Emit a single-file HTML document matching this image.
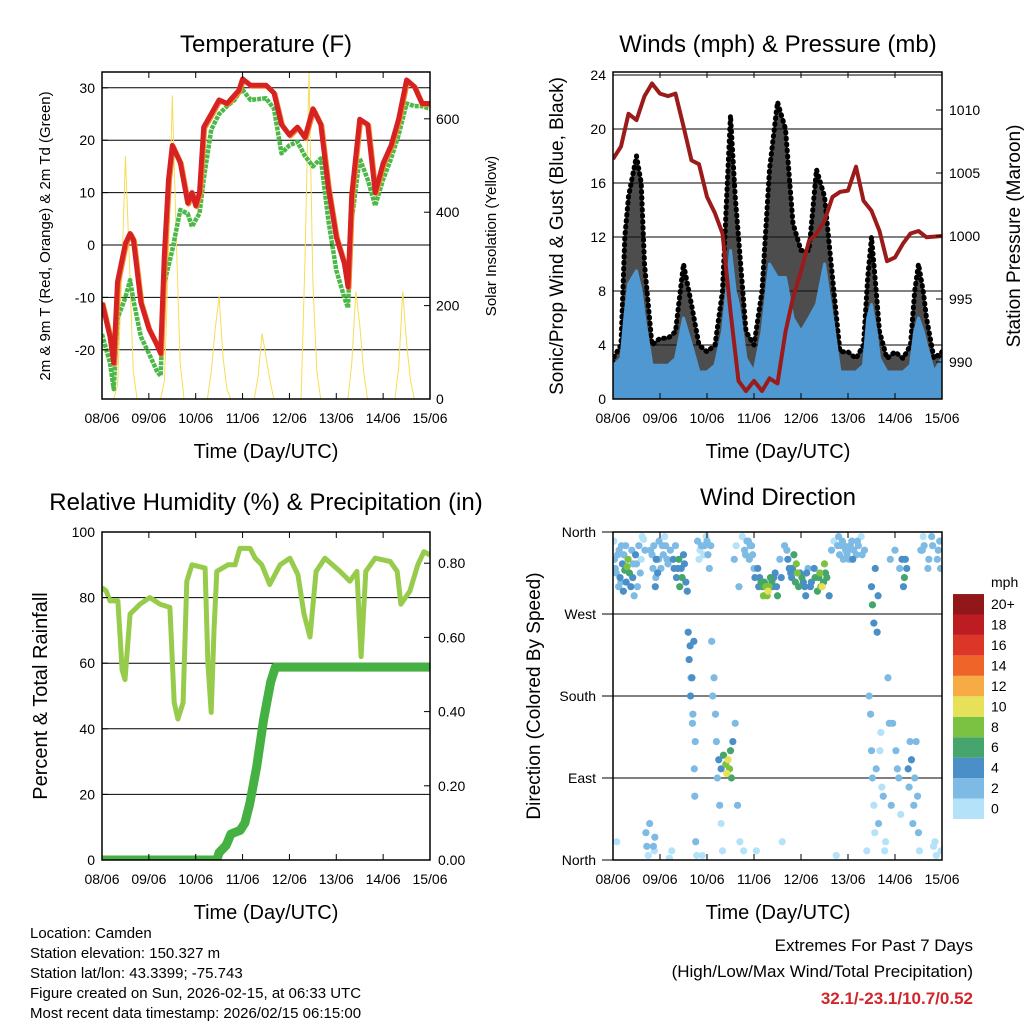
<!DOCTYPE html>
<html><head><meta charset="utf-8"><style>
html,body{margin:0;padding:0;background:#fff}
svg text{font-family:"Liberation Sans",sans-serif;fill:#000}
</style></head><body>
<svg id="s" width="1024" height="1024" viewBox="0 0 1024 1024" xmlns="http://www.w3.org/2000/svg">
<defs>
<clipPath id="c1"><rect x="102" y="72" width="328" height="327"/></clipPath>
<clipPath id="c2"><rect x="613" y="72" width="329" height="327"/></clipPath>
<clipPath id="c3"><rect x="102" y="532" width="328" height="328"/></clipPath>
<clipPath id="c4"><rect x="613" y="532" width="329" height="328"/></clipPath>
</defs>
<text x="266" y="52" font-size="24" text-anchor="middle">Temperature (F)</text>
<text x="778" y="52" font-size="24" text-anchor="middle">Winds (mph) &amp; Pressure (mb)</text>
<text x="266" y="510" font-size="24" text-anchor="middle">Relative Humidity (%) &amp; Precipitation (in)</text>
<text x="778" y="505" font-size="24" text-anchor="middle">Wind Direction</text>
<text x="266" y="458" font-size="20" text-anchor="middle">Time (Day/UTC)</text>
<text x="778" y="458" font-size="20" text-anchor="middle">Time (Day/UTC)</text>
<text x="266" y="919" font-size="20" text-anchor="middle">Time (Day/UTC)</text>
<text x="778" y="919" font-size="20" text-anchor="middle">Time (Day/UTC)</text>
<text transform="translate(50,236) rotate(-90)" font-size="15" text-anchor="middle">2m &amp; 9m T (Red, Orange) &amp; 2m Td (Green)</text>
<text transform="translate(496,236) rotate(-90)" font-size="15" text-anchor="middle">Solar Insolation (Yellow)</text>
<text transform="translate(563,236) rotate(-90)" font-size="19" text-anchor="middle">Sonic/Prop Wind &amp; Gust (Blue, Black)</text>
<text transform="translate(1020,236) rotate(-90)" font-size="19" text-anchor="middle">Station Pressure (Maroon)</text>
<text transform="translate(47,696) rotate(-90)" font-size="20" text-anchor="middle">Percent &amp; Total Rainfall</text>
<text transform="translate(540,696) rotate(-90)" font-size="19" text-anchor="middle">Direction (Colored By Speed)</text>
<g font-size="15">
<text x="30" y="938">Location: Camden</text>
<text x="30" y="958">Station elevation: 150.327 m</text>
<text x="30" y="978">Station lat/lon: 43.3399; -75.743</text>
<text x="30" y="998">Figure created on Sun, 2026-02-15, at 06:33 UTC</text>
<text x="30" y="1018">Most recent data timestamp: 2026/02/15 06:15:00</text>
</g>
<g text-anchor="end">
<text x="973" y="951" font-size="17">Extremes For Past 7 Days</text>
<text x="973" y="977" font-size="17">(High/Low/Max Wind/Total Precipitation)</text>
<text x="973" y="1004" font-size="17" font-weight="bold" style="fill:#d0262b">32.1/-23.1/10.7/0.52</text>
</g>
</svg>
<script>
const dayLabels=['08/06','09/06','10/06','11/06','12/06','13/06','14/06','15/06'];
const tempTicks=[-20,-10,0,10,20,30];
const solarTicks=[0,200,400,600];
const windTicks=[0,4,8,12,16,20,24];
const presTicks=[990,995,1000,1005,1010];
const rhTicks=[0,20,40,60,80,100];
const rainTicks=[0,0.2,0.4,0.6,0.8];
const dirLabels=['North','East','South','West','North'];
const spdLabels=['0','2','4','6','8','10','12','14','16','18','20+'];
const spdColors=['#b4e2f8','#7dbae4','#4a8fc8','#46a56c','#7cc242','#e6e158','#f6ab45','#ef6429','#dc3628','#bd1c23','#921719'];

const tTime=[0,0.17,0.25,0.33,0.5,0.6,0.67,0.83,1.0,1.17,1.25,1.33,1.42,1.5,1.67,1.83,1.92,2.0,2.08,2.17,2.33,2.5,2.67,2.83,2.92,3.0,3.17,3.5,3.67,3.83,4.0,4.17,4.33,4.5,4.67,4.83,5.0,5.17,5.25,5.33,5.5,5.67,5.83,6.0,6.17,6.33,6.5,6.67,6.83,7.0];
const temp2m=[-11,-17.5,-22.5,-7,0.3,2.2,1,-11,-16,-19,-20.7,-2,12.5,19,15.7,8,10,7.5,10,22.5,25,27.7,27,28.6,29.5,31.7,30.5,30.5,29,23,21,22.5,20.5,26,23,11,1.5,-3.5,-8,9.5,24,23,10,15.6,19,24,31.5,30.2,27,27];
const dewTime=[0,0.17,0.25,0.33,0.5,0.6,0.67,0.83,1.0,1.17,1.25,1.33,1.5,1.67,1.83,1.92,2.0,2.08,2.17,2.33,2.5,2.67,2.83,2.92,3.0,3.17,3.5,3.67,3.83,4.0,4.17,4.33,4.5,4.67,4.83,5.0,5.17,5.25,5.33,5.5,5.67,5.83,6.0,6.17,6.33,6.5,6.67,6.83,7.0];
const dew2m=[-17,-22.5,-27.5,-14,-10,-6.7,-10.5,-17.5,-20.7,-24,-25,-7.3,-1,6.7,6,3.5,4.8,6,12.5,22,25,26.5,27.7,29,29.6,27.7,28,26,17.5,19,19.7,17,15,16.5,4.8,-4.8,-10,-12,4.8,16.5,12.5,7.5,12.5,16.5,21,27,26.5,26.5,26];
const solar=[0,0,0,0,30,250,520,300,60,0,0,0,
0,0,0,0,40,300,650,350,80,0,0,0,
0,0,0,0,60,150,220,90,20,0,0,0,
0,0,0,0,50,140,90,40,0,0,0,0,
0,0,0,0,300,700,250,60,0,0,0,0,
0,0,0,0,80,230,160,60,0,0,0,0,
0,0,0,0,70,230,120,40,0,0,0,0,0];

const pTime=[0,0.17,0.33,0.5,0.67,0.83,1.0,1.17,1.33,1.5,1.67,1.83,2.0,2.17,2.33,2.5,2.67,2.83,3.0,3.17,3.33,3.5,3.67,3.83,4.0,4.17,4.33,4.5,4.67,4.83,5.0,5.17,5.33,5.5,5.67,5.83,6.0,6.17,6.33,6.5,6.67,7.0];
const pressure=[1006.1,1007.1,1009.7,1009.2,1011.1,1012.1,1011.3,1011.1,1011.3,1008.7,1006,1005.7,1003.1,1001.8,1000.2,994,988.5,987.7,988.5,987.7,988.7,988.3,992.4,995.1,997.2,999.6,1000.2,1001.2,1003.1,1003.5,1003.6,1005.5,1002.8,1002,1000.4,998,998.3,999.4,1000.2,1000.4,999.9,1000];
const wTime=[0,0.17,0.25,0.33,0.5,0.6,0.67,0.83,1.0,1.17,1.33,1.5,1.67,1.83,2.0,2.17,2.33,2.42,2.5,2.6,2.67,2.83,3.0,3.17,3.33,3.5,3.67,3.83,4.0,4.17,4.33,4.5,4.67,4.83,5.0,5.17,5.33,5.42,5.5,5.6,5.67,5.83,6.0,6.17,6.33,6.42,6.5,6.6,6.67,6.83,7.0];
const windSpd=[2.5,3,6,8.5,9.5,8,6,2.5,2.5,2.5,3,6,4,2,2,2.5,5,8,11,8,7,3,2,5,10,9,9,6,5,6,7,10,6,2,2,2,2.5,6,7,5,3,2,2,2,2.5,5,6,5,4,2,3];
const windGust=[3,4,12,15,18,16,10,4,4.5,4.5,5,10,7,4,3.5,4,8,15,21,15,12,5,4,8,17,22,20,13,11,11,17,15,9,3.5,3.5,3,4,9,12,8,5,3,3.5,3,4,8,10,8,6,3,3.5];

const rhTime=[0,.09,.17,.34,.43,.49,.6,.81,1.02,1.24,1.45,1.54,1.62,1.73,1.81,1.92,2.2,2.26,2.33,2.39,2.45,2.69,2.84,2.94,3.16,3.27,3.41,3.58,3.8,4.01,4.18,4.31,4.44,4.57,4.76,5.08,5.29,5.44,5.53,5.63,5.83,6.15,6.3,6.38,6.57,6.74,6.87,7.0];
const rh=[83,82,79,79,58,55,75,78,80,78,77,48,43,48,85,90,89,60,45,70,88,90,90,95,95,92,90,84,90,92,87,75,68,88,92,88,85,88,62,88,92,91,88,78,82,90,94,93];
const rainTime=[0,2.45,2.5,2.65,2.75,2.95,3.05,3.15,3.3,3.45,3.6,3.7,7];
const rain=[0,0,0.02,0.04,0.07,0.08,0.10,0.15,0.25,0.38,0.48,0.52,0.52];

const dirObs=[[0.05,320,2],[0.1,335,1],[0.15,310,3],[0.2,325,4],[0.25,318,6],[0.28,305,4],[0.3,322,8],[0.32,330,7],[0.35,315,5],[0.38,300,3],[0.4,340,2],[0.42,310,4],[0.45,290,2],[0.5,325,1],[0.12,300,1],[0.18,345,1],[0.22,295,3],[0.48,335,3],
[0.02,350,0],[0.08,20,0],[0.55,345,1],[0.6,330,0],[0.65,352,0],[0.7,30,1],[0.72,15,1],[0.75,5,0],[0.78,40,2],[0.8,340,1],[0.85,320,2],[0.9,300,3],[0.92,330,4],[0.95,315,3],[0.98,350,1],
[1.05,345,1],[1.1,355,0],[1.15,330,1],[1.2,2,0],[1.25,10,0],[1.3,320,3],[1.35,310,4],[1.4,330,5],[1.42,300,6],[1.45,320,4],[1.5,335,3],[1.55,305,4],[1.6,250,3],[1.62,220,4],[1.65,180,3],[1.68,200,4],[1.7,160,2],[1.72,240,3],[1.75,130,2],[1.8,350,1],[1.85,340,0],[1.9,5,0],[1.95,345,1],
[2.0,350,1],[2.05,320,1],[2.1,240,1],[2.15,200,2],[2.2,130,1],[2.25,110,3],[2.3,100,4],[2.35,115,6],[2.4,105,8],[2.42,95,9],[2.45,110,10],[2.48,100,7],[2.5,120,6],[2.52,90,5],[2.55,130,3],[2.6,150,1],[2.65,60,1],[2.7,20,0],[2.75,355,0],[2.8,340,1],[2.85,350,1],[2.9,330,2],[2.95,345,1],
[3.0,320,2],[3.05,10,0],[3.1,300,3],[3.15,305,6],[3.2,290,8],[3.25,300,7],[3.3,295,9],[3.35,310,6],[3.4,300,4],[3.45,315,3],[3.5,290,5],[3.55,330,1],[3.6,20,0],[3.65,345,1],[3.7,340,2],[3.75,320,3],[3.8,310,4],[3.85,335,5],[3.9,325,8],[3.95,300,6],[3.98,315,4],
[4.05,305,4],[4.1,290,3],[4.15,320,2],[4.2,300,4],[4.3,310,5],[4.35,295,6],[4.4,315,8],[4.45,300,9],[4.5,325,7],[4.55,310,5],[4.6,290,3],[4.65,340,1],[4.7,350,0],[4.75,5,0],[4.8,355,1],[4.85,345,1],[4.9,330,2],[4.95,340,1],
[5.0,340,2],[5.05,345,1],[5.1,330,3],[5.2,350,1],[5.3,335,2],[5.4,10,0],[5.45,180,1],[5.5,300,4],[5.52,280,5],[5.55,260,4],[5.58,320,3],[5.6,100,1],[5.65,40,1],[5.7,140,0],[5.75,70,1],[5.8,20,0],[5.85,200,1],[5.9,330,2],[5.95,150,1],
[6.0,340,1],[6.05,100,1],[6.1,320,2],[6.15,330,4],[6.2,310,5],[6.25,320,3],[6.3,80,2],[6.35,110,3],[6.4,60,1],[6.45,130,2],[6.5,30,1],[6.55,340,1],[6.6,355,0],[6.7,320,2],[6.8,345,1],[6.85,20,0],[6.9,330,1],[6.95,350,1],[6.98,10,0],
[0.03,330,1],[0.07,315,1],[0.13,340,1],[0.17,305,2],[0.23,335,2],[0.27,345,1],[0.43,325,2],[0.52,300,1],[0.58,315,1],[0.62,355,0],[0.68,340,1],[0.83,335,1],[0.87,345,2],[0.88,10,0],[0.89,25,1],[0.86,15,1],[0.91,310,2],[0.97,330,2],
[1.02,320,2],[1.07,335,1],[1.12,345,1],[1.17,325,1],[1.22,340,2],[1.28,330,3],[1.33,345,2],[1.38,320,3],[1.47,310,5],[1.52,325,4],[1.58,295,4],[1.64,235,4],[1.66,200,2],[1.69,150,1],[1.73,100,2],[1.74,70,1],[1.76,20,1],[1.78,5,0],[1.83,330,0],[1.88,345,1],[1.93,335,0],[1.98,355,0],
[2.02,335,1],[2.08,345,1],[2.12,180,1],[2.18,160,1],[2.22,90,1],[2.27,60,1],[2.3,40,0],[2.33,10,0],[2.58,330,1],[2.62,345,0],[2.68,300,1],[2.78,10,0],[2.82,335,1],[2.88,350,1],[2.92,345,2],[2.97,335,2],
[3.02,310,3],[3.08,320,4],[3.12,310,4],[3.18,300,5],[3.22,305,6],[3.28,290,7],[3.32,300,8],[3.38,305,5],[3.42,310,4],[3.48,300,4],[3.58,310,3],[3.72,330,3],[3.78,315,4],[3.82,320,4],[3.88,305,6],[3.92,315,7],
[4.02,310,5],[4.08,300,4],[4.12,315,4],[4.22,305,3],[4.28,320,4],[4.38,310,6],[4.42,300,7],[4.48,305,6],[4.52,315,5],[4.78,345,1],[4.82,335,1],[4.88,350,1],[4.92,345,1],[4.98,335,1],
[5.02,330,1],[5.08,350,1],[5.12,340,1],[5.18,335,1],[5.22,345,1],[5.28,355,0],[5.35,340,1],[5.48,160,1],[5.5,120,1],[5.52,90,1],[5.55,60,0],[5.57,30,0],[5.62,250,3],[5.64,290,4],[5.68,120,0],[5.72,80,0],[5.78,10,0],[5.88,150,1],[5.92,60,1],
[6.02,120,1],[6.08,90,1],[6.12,50,0],[6.18,300,4],[6.22,330,4],[6.28,100,3],[6.32,130,2],[6.38,40,1],[6.42,90,2],[6.48,70,1],[6.52,10,0],[6.58,340,1],[6.62,345,1],[6.72,330,1],[6.78,355,1],[6.82,15,0],[6.88,5,0],[6.92,340,2],[6.97,320,2]];

const NS='http://www.w3.org/2000/svg';
const svg=document.getElementById('s');
function mk(tag,attrs,parent){const e=document.createElementNS(NS,tag);for(const k in attrs)e.setAttribute(k,attrs[k]);(parent||svg).appendChild(e);return e;}
function pathOf(xs,ys,fx,fy){return xs.map((x,i)=>(i?'L':'M')+fx(x).toFixed(1)+','+fy(ys[i]).toFixed(1)).join('');}

const xT=d=>102+d*328/7, yT=v=>245-v*5.24, yS=v=>399-v*0.467;
const xW=d=>613+d*329/7, yW=v=>399-v*13.5, yP=p=>236-(p-1000)*12.6;
const yRH=v=>860-v*3.28, yRain=v=>860-v*371;
const yD=d=>860-d*328/360;

function frame(x0,y0,w,h,name){
  const r=mk('rect',{x:x0,y:y0,width:w,height:h,fill:'none',stroke:'#000','stroke-width':1.5});
  
  
}
function xAxis(fx,y0,y1,name){
  const g=mk('g',{});
  
  
  dayLabels.forEach((l,i)=>{
    const x=fx(i);
    mk('line',{x1:x,x2:x,y1:y1,y2:y1-6,stroke:'#000'},g);
    mk('line',{x1:x,x2:x,y1:y0,y2:y0+6,stroke:'#000'},g);
    const t=mk('text',{x:x,y:y1+24,'font-size':14,'text-anchor':'middle'},g);t.textContent=l;
  });
}
function hgrid(vals,fy,x0,x1,name,col){
  const g=mk('g',{});
  
  
  vals.forEach(v=>mk('line',{x1:x0,x2:x1,y1:fy(v),y2:fy(v),stroke:col||'#000','stroke-width':1},g));
}
function yLabels(vals,fy,x,anchor,name,fmt,tickX,tickDir){
  const g=mk('g',{});
  
  
  vals.forEach(v=>{
    mk('line',{x1:tickX,x2:tickX+tickDir*6,y1:fy(v),y2:fy(v),stroke:'#000'},g);
    const t=mk('text',{x:x,y:fy(v)+5,'font-size':14,'text-anchor':anchor},g);t.textContent=fmt?fmt(v):v;
  });
}

// Panel 1
hgrid(tempTicks,yT,102,430,'temp-gridlines');
let g1=mk('g',{'clip-path':'url(#c1)'});
let sol=mk('path',{d:pathOf(solar.map((_,i)=>i/12),solar,xT,yS),fill:'none',stroke:'#f7dd55','stroke-width':1},g1);


let dw=mk('path',{d:pathOf(dewTime,dew2m,xT,yT),fill:'none',stroke:'#4cb847','stroke-width':4.5,'stroke-dasharray':'4 1','stroke-linejoin':'round'},g1);


let t9=mk('path',{d:pathOf(tTime,temp2m,xT,yT),fill:'none',stroke:'#f28a2a','stroke-width':5,transform:'translate(1,1)','stroke-linejoin':'round'},g1);


let t2=mk('path',{d:pathOf(tTime,temp2m,xT,yT),fill:'none',stroke:'#d62222','stroke-width':5,'stroke-linejoin':'round'},g1);


frame(102,72,328,327,'temp-plot-frame');
xAxis(xT,72,399,'temp-x-axis');
yLabels(tempTicks,yT,95,'end','temp-y-axis',null,102,1);
yLabels(solarTicks,yS,436,'start','solar-y-axis',null,430,-1);

// Panel 2
hgrid(windTicks,yW,613,942,'wind-gridlines');
let g2=mk('g',{'clip-path':'url(#c2)'});
let gustD='M'+xW(0)+','+yW(0)+wTime.map((t,i)=>'L'+xW(t).toFixed(1)+','+yW(windGust[i]).toFixed(1)).join('')+'L'+xW(7)+','+yW(0)+'Z';
let gust=mk('path',{d:gustD,fill:'#111','fill-opacity':0.75,stroke:'#000','stroke-width':5,'stroke-dasharray':'1 5','stroke-linecap':'round','stroke-linejoin':'round'},g2);


let spdD='M'+xW(0)+','+yW(0)+wTime.map((t,i)=>'L'+xW(t).toFixed(1)+','+yW(windSpd[i]).toFixed(1)).join('')+'L'+xW(7)+','+yW(0)+'Z';
let spd=mk('path',{d:spdD,fill:'#4f98d2',stroke:'#4f98d2','stroke-width':3,'stroke-linejoin':'round'},g2);


let pr=mk('path',{d:pathOf(pTime,pressure,xW,yP),fill:'none',stroke:'#9b1b1b','stroke-width':4,'stroke-linejoin':'round'},g2);


frame(613,72,329,327,'wind-plot-frame');
xAxis(xW,72,399,'wind-x-axis');
yLabels(windTicks,yW,606,'end','wind-y-axis',null,613,1);
yLabels(presTicks,yP,949,'start','pressure-y-axis',null,942,-1);

// Panel 3
hgrid(rhTicks,yRH,102,430,'rh-gridlines');
let g3=mk('g',{'clip-path':'url(#c3)'});
let rl=mk('path',{d:pathOf(rhTime,rh,xT,yRH),fill:'none',stroke:'#97cb4b','stroke-width':5,'stroke-linejoin':'round'},g3);


let rn=mk('path',{d:pathOf(rainTime,rain,xT,yRain),fill:'none',stroke:'#45b142','stroke-width':9,'stroke-linejoin':'round'},g3);


frame(102,532,328,328,'rh-plot-frame');
xAxis(xT,532,860,'rh-x-axis');
yLabels(rhTicks,yRH,95,'end','rh-y-axis',null,102,1);
yLabels(rainTicks,yRain,438,'start','rain-y-axis',v=>v.toFixed(2),430,-1);

// Panel 4
hgrid([0,90,180,270,360],yD,602,942,'direction-gridlines');
let g4=mk('g',{'clip-path':'url(#c4)'});
const order=dirObs.slice().sort((a,b)=>a[2]-b[2]);
order.forEach(o=>{
  const ci=Math.min(10,Math.round(o[2]/2));
  const c=mk('circle',{cx:xW(o[0]),cy:yD(o[1]),r:3.6,fill:spdColors[ci]},g4);
  
  
});
frame(613,532,329,328,'direction-plot-frame');
xAxis(xW,532,860,'direction-x-axis');
const dl=mk('g',{});


dirLabels.forEach((l,i)=>{const t=mk('text',{x:596,y:yD(i*90)+5,'font-size':14,'text-anchor':'end'},dl);t.textContent=l;});
const cb=mk('g',{});


const mph=mk('text',{x:991,y:587,'font-size':14},cb);mph.textContent='mph';
spdColors.forEach((c,i)=>{
  const y=819-(i+1)*20.45;
  mk('rect',{x:953,y:y,width:31,height:20.45,fill:c},cb);
  const t=mk('text',{x:991,y:y+15,'font-size':14},cb);t.textContent=spdLabels[i];
});
</script>
</body></html>
